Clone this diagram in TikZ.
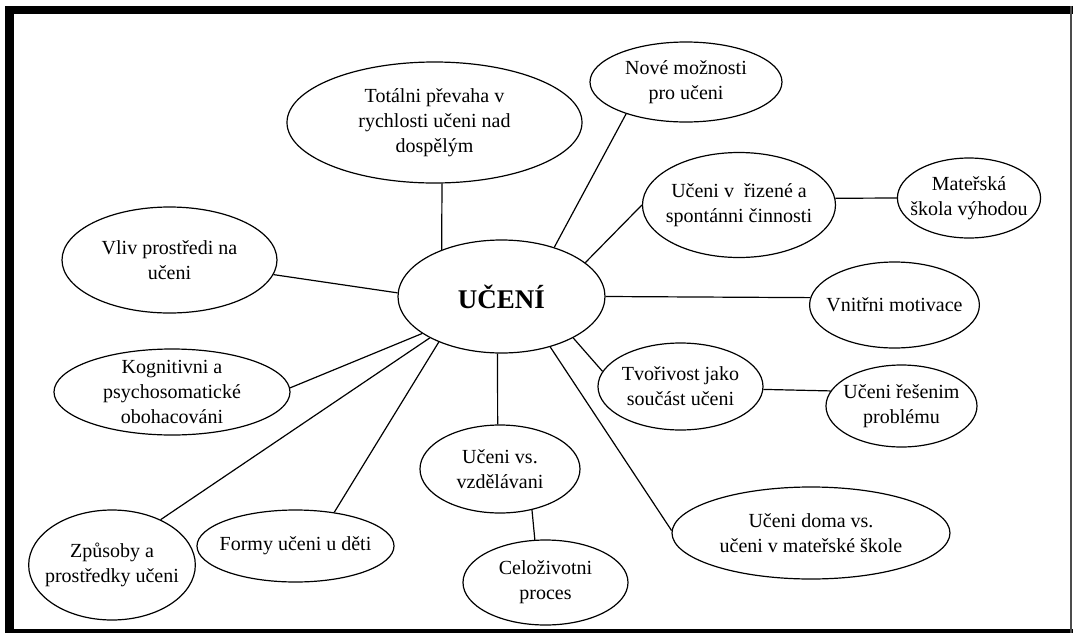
\documentclass[tikz,border=0pt]{standalone}
\usepackage{fontspec}
\setmainfont{Liberation Serif}
\usetikzlibrary{shapes.geometric}
\tikzset{every path/.style={line width=0.6pt}}
\tikzset{bubble/.style={draw,ellipse,inner sep=-4pt,align=center,font=\fontsize{10}{12.5}\selectfont}}

\begin{document}
\begin{tikzpicture}[x=0.5pt,y=-0.5pt]
\useasboundingbox (0,0) rectangle (1073,633);
% frame
\fill (5,6) rectangle (1073,14);
\fill (5,6) rectangle (14,633);
\fill (5,629) rectangle (1073,633);
\fill[black!70] (1070,6) rectangle (1072,633);
% centre
\node[bubble,minimum width=103.5pt,minimum height=56.5pt,font=\fontsize{13.5}{16}\selectfont\bfseries] (ucen) at (501.5,296.5) {UČENÍ};
% upper half
\node[bubble,minimum width=147.5pt,minimum height=60.5pt] (totalni) at (434.5,122.5) {Totálni převaha v\\rychlosti učeni nad\\dospělým};
\node[bubble,minimum width=96pt,minimum height=40pt] (nove) at (686,82) {Nové možnosti\\pro učeni};
\node[bubble,minimum width=96.5pt,minimum height=52.5pt] (rizene) at (739,205) {Učeni v\ \ řizené a\\spontánni činnosti};
\node[bubble,minimum width=71pt,minimum height=40pt] (materska) at (969,198) {Mateřská\\škola výhodou};
\node[bubble,minimum width=107.5pt,minimum height=53pt] (vliv) at (169.5,260) {Vliv prostředi na\\učeni};
\node[bubble,minimum width=82.5pt,minimum height=43pt] (vnitrni) at (894.5,305) {Vnitřni motivace};
% lower half
\node[bubble,minimum width=118pt,minimum height=43pt] (kognit) at (172,392) {Kognitivni a\\psychosomatické\\obohacováni};
\node[bubble,minimum width=82.5pt,minimum height=43.5pt] (tvorivost) at (680.5,386.5) {Tvořivost jako\\součást učeni};
\node[bubble,minimum width=75.5pt,minimum height=41pt] (reseni) at (901.5,406) {Učeni řešenim\\problému};
\node[bubble,minimum width=80pt,minimum height=44pt] (vzdel) at (500,469) {Učeni vs.\\vzdělávani};
\node[bubble,minimum width=139pt,minimum height=46pt] (doma) at (811,533) {Učeni doma vs.\\učeni v mateřské škole};
\node[bubble,minimum width=79pt,minimum height=55pt] (zpusoby) at (112,565) {Způsoby a\\prostředky učeni};
\node[bubble,minimum width=98.5pt,minimum height=36pt] (formy) at (295.5,546) {Formy učeni u děti};
\node[bubble,minimum width=82.5pt,minimum height=42.5pt] (celozivot) at (545.5,582.5) {Celoživotni\\proces};
% connectors
\draw (ucen.142) -- (totalni.277);
\draw (ucen.178) -- (vliv.352);
\draw (ucen.43) -- (nove.208);
\draw (ucen.22) -- (rizene.180);
\draw (rizene.4) -- (materska.180);
\draw (ucen.0) -- (vnitrni.175);
\draw (ucen.330) -- (tvorivost.169);
\draw (tvorivost.358) -- (reseni.168);
\draw (ucen.314) -- (doma.179);
\draw (ucen.266) -- (vzdel.93);
\draw (vzdel.308) -- (celozivot.104);
\draw (ucen.205) -- (kognit.2);
\draw (ucen.210) -- (zpusoby.43);
\draw (ucen.216) -- (formy.41);
\end{tikzpicture}
\end{document}
